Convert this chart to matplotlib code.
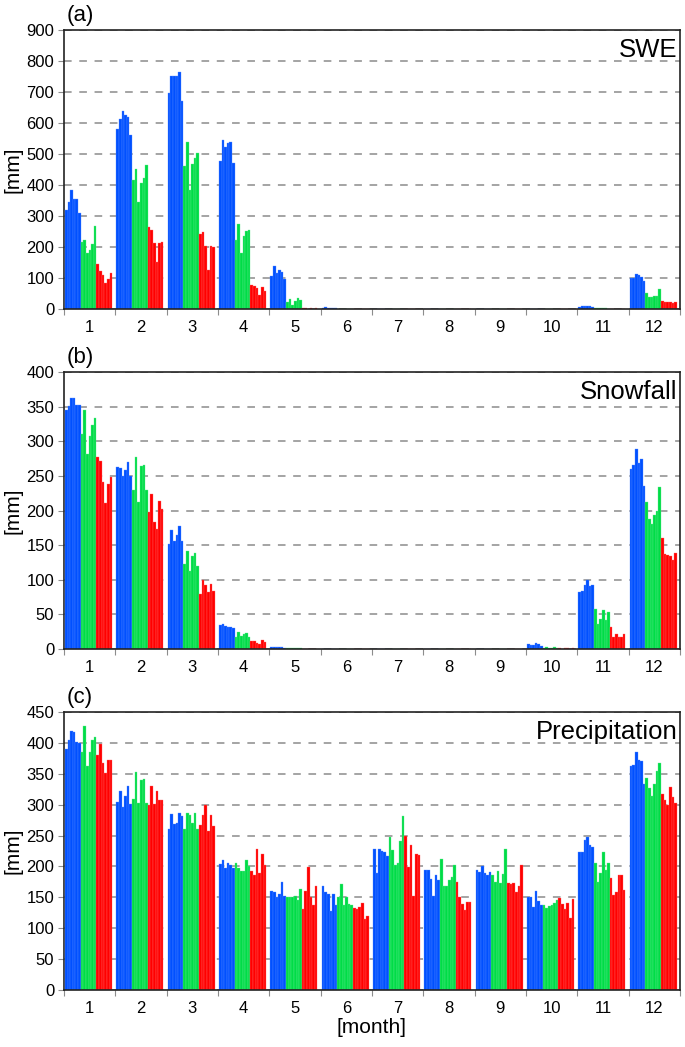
import matplotlib
matplotlib.use("Agg")
import matplotlib.pyplot as plt
import numpy as np

plt.rcParams["font.family"] = ["Liberation Sans", "DejaVu Sans"]

# monthly values, 6 bars per colour group, months 1..12
months = [str(m) for m in range(1, 13)]

swe_blue = [
    [320, 346, 384, 355, 355, 310], [581, 613, 640, 626, 618, 561],
    [697, 750, 750, 752, 763, 672], [478, 546, 522, 535, 540, 470],
    [106, 137, 117, 126, 119, 98], [4, 5, 4, 3, 4, 3],
    [0, 0, 0, 0, 0, 0], [0, 0, 0, 0, 0, 0], [0, 0, 0, 0, 0, 0],
    [0, 0, 0, 0, 0, 0], [6, 8, 8, 9, 8, 6], [99, 100, 112, 108, 104, 91],
]
swe_green = [
    [217, 221, 180, 190, 208, 268], [417, 452, 344, 405, 423, 463],
    [462, 537, 384, 466, 486, 504], [224, 274, 181, 234, 253, 256],
    [24, 33, 14, 25, 35, 29], [1, 1, 1, 1, 1, 1],
    [0, 0, 0, 0, 0, 0], [0, 0, 0, 0, 0, 0], [0, 0, 0, 0, 0, 0],
    [0, 0, 0, 0, 0, 0], [2, 2, 2, 2, 2, 1], [53, 40, 38, 41, 42, 63],
]
swe_red = [
    [145, 121, 111, 83, 97, 117], [266, 255, 212, 153, 212, 215],
    [242, 247, 202, 127, 204, 199], [77, 75, 69, 45, 70, 57],
    [2, 2, 1, 2, 1, 2], [0, 0, 0, 0, 0, 0],
    [0, 0, 0, 0, 0, 0], [0, 0, 0, 0, 0, 0], [0, 0, 0, 0, 0, 0],
    [0, 0, 0, 0, 0, 0], [1, 0, 1, 0, 1, 0], [27, 24, 23, 21, 19, 23],
]

snow_blue = [
    [345, 351, 363, 363, 353, 352], [263, 261, 250, 258, 270, 250],
    [152, 172, 156, 164, 178, 156], [34, 36, 33, 32, 32, 31],
    [3, 3, 3, 3, 3, 2], [0, 0, 0, 0, 0, 0],
    [0, 0, 0, 0, 0, 0], [0, 0, 0, 0, 0, 0], [0, 0, 0, 0, 0, 0],
    [7, 6, 6, 8, 7, 5], [83, 84, 93, 99, 91, 92], [260, 266, 289, 268, 274, 235],
]
snow_green = [
    [311, 345, 281, 308, 324, 334], [230, 277, 213, 264, 265, 229],
    [123, 142, 113, 134, 139, 120], [17, 25, 19, 21, 23, 18],
    [1, 1, 1, 1, 2, 1], [0, 0, 0, 0, 0, 0],
    [0, 0, 0, 0, 0, 0], [0, 0, 0, 0, 0, 0], [0, 0, 0, 0, 0, 0],
    [2, 3, 2, 2, 3, 1], [58, 36, 44, 56, 42, 53], [212, 188, 180, 193, 200, 234],
]
snow_red = [
    [277, 271, 241, 211, 238, 248], [198, 224, 184, 174, 214, 202],
    [80, 99, 92, 82, 94, 84], [11, 11, 9, 7, 13, 10],
    [0, 0, 0, 0, 0, 0], [0, 0, 0, 0, 0, 0],
    [0, 0, 0, 0, 0, 0], [0, 0, 0, 0, 0, 0], [0, 0, 0, 0, 0, 0],
    [1, 0, 1, 1, 0, 1], [32, 17, 22, 18, 18, 22], [160, 137, 136, 135, 128, 138],
]

prec_blue = [
    [391, 405, 419, 417, 402, 400], [305, 322, 296, 314, 331, 301],
    [261, 285, 268, 271, 286, 282], [204, 211, 198, 206, 202, 197],
    [160, 158, 151, 155, 175, 153], [169, 159, 156, 128, 156, 137],
    [228, 190, 228, 225, 224, 217], [195, 194, 179, 153, 186, 178],
    [195, 191, 200, 190, 187, 191], [151, 151, 134, 160, 144, 137],
    [224, 224, 243, 248, 234, 232], [362, 365, 385, 372, 371, 334],
]
prec_green = [
    [385, 427, 363, 386, 404, 409], [309, 353, 302, 340, 341, 302],
    [260, 287, 283, 270, 286, 261], [206, 198, 193, 193, 210, 201],
    [151, 151, 151, 153, 146, 164], [150, 172, 138, 151, 140, 138],
    [247, 227, 203, 206, 242, 282], [212, 169, 169, 178, 183, 203],
    [187, 175, 192, 173, 188, 228], [137, 133, 136, 137, 141, 146],
    [205, 175, 189, 223, 195, 206], [344, 327, 314, 334, 354, 367],
]
prec_red = [
    [380, 399, 368, 351, 373, 373], [299, 330, 301, 322, 308, 308],
    [267, 284, 300, 257, 283, 265], [192, 187, 229, 189, 220, 202],
    [131, 161, 199, 150, 137, 168], [133, 132, 134, 141, 115, 120],
    [250, 199, 234, 153, 220, 218], [175, 150, 140, 130, 143, 143],
    [173, 172, 174, 159, 168, 203], [149, 140, 131, 141, 117, 147],
    [181, 154, 159, 187, 187, 162], [318, 308, 299, 329, 312, 302],
]

COLORS = ("#0050ff", "#00dc46", "#ff0000")
EDGES = ("#5a8cff", "#66eb94", "#ff6a6a")

panels = [
    ("(a)", "SWE", (swe_blue, swe_green, swe_red), 900, 100),
    ("(b)", "Snowfall", (snow_blue, snow_green, snow_red), 400, 50),
    ("(c)", "Precipitation", (prec_blue, prec_green, prec_red), 450, 50),
]
axes_rect = [
    [0.0934, 0.7049, 0.8993, 0.2665],
    [0.0934, 0.3801, 0.8993, 0.2646],
    [0.0934, 0.0544, 0.8993, 0.2655],
]

fig = plt.figure(figsize=(6.85, 10.47), dpi=100)

n_bar = 6
bw = 0.051
for (tag, name, groups, ymax, ystep), rect in zip(panels, axes_rect):
    ax = fig.add_axes(rect)
    x0 = np.arange(1, 13) - 0.48
    for g, (vals, col, ec) in enumerate(zip(groups, COLORS, EDGES)):
        arr = np.asarray(vals, dtype=float)
        for k in range(n_bar):
            xs = x0 + (g * n_bar + k) * bw
            ax.bar(xs, arr[:, k], width=bw, align="edge", color=col,
                   edgecolor=ec, linewidth=0.25, zorder=3)

    ax.set_xlim(0.5, 12.5)
    ax.set_ylim(0, ymax)
    ax.set_yticks(np.arange(0, ymax + 1, ystep))
    ax.yaxis.grid(True, linestyle=(0, (5, 5)), color="#8c8c8c", linewidth=1.1, zorder=0)
    ax.tick_params(axis="y", labelsize=12, length=4, color="#8c8c8c", pad=3)

    # boundary ticks between months, labels at month centres
    ax.set_xticks(np.arange(0.5, 13, 1))
    ax.set_xticklabels([])
    ax.set_xticks(np.arange(1, 13), minor=True)
    ax.set_xticklabels(months, minor=True)
    ax.tick_params(axis="x", which="major", length=4, color="#8c8c8c")
    ax.tick_params(axis="x", which="minor", length=0, labelsize=12, pad=8)

    for s in ax.spines.values():
        s.set_color("#222222")
        s.set_linewidth(1.2)
    ax.spines["bottom"].set_zorder(4)

    ax.set_ylabel("[mm]", fontsize=15, labelpad=3)
    ax.text(0.996, 0.97, name, transform=ax.transAxes, ha="right", va="top",
            fontsize=18.5)
    ax.text(0.004, 1.015, tag, transform=ax.transAxes, ha="left", va="bottom",
            fontsize=16)

ax.set_xlabel("[month]", fontsize=15, labelpad=1)

fig.savefig("out.png", dpi=100)
